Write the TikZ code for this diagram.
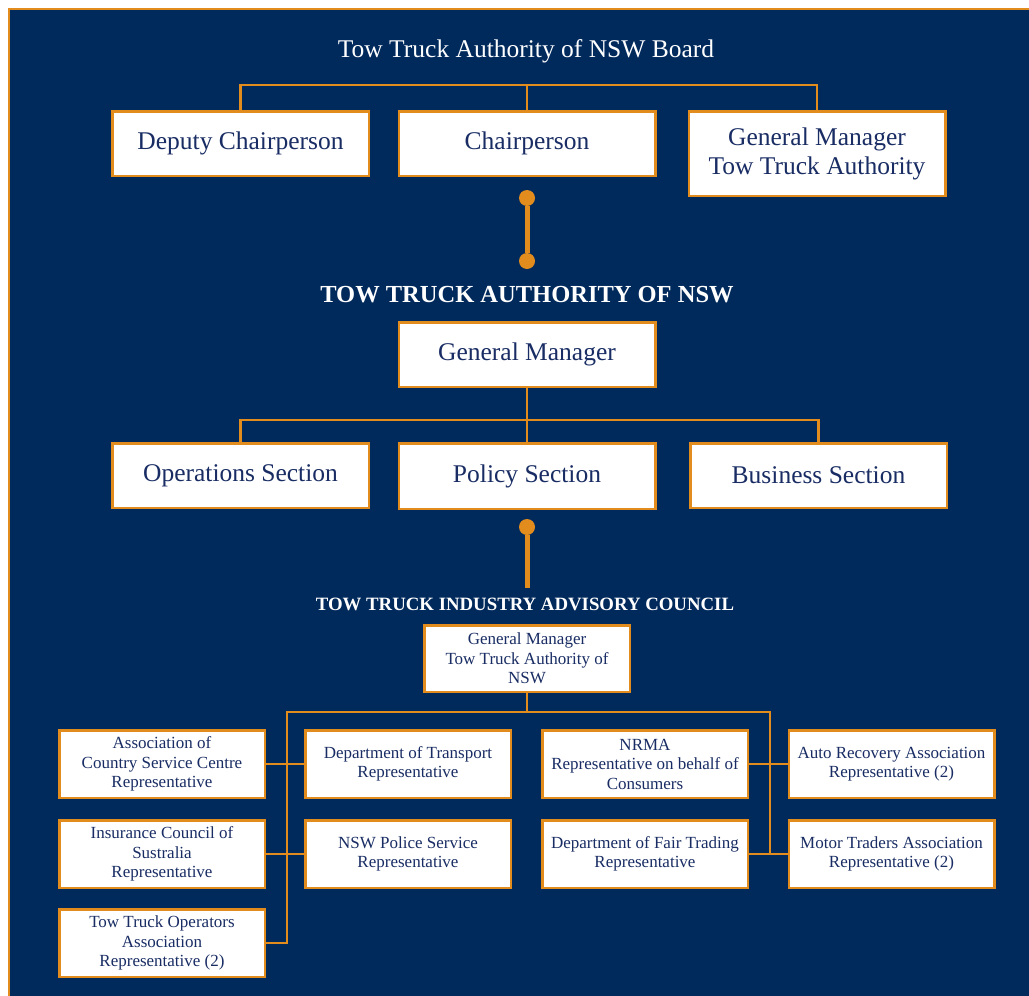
\documentclass[tikz,border=0pt]{standalone}
\usepackage{fontspec}
\setmainfont{Liberation Serif}
\definecolor{navy}{RGB}{0,41,92}
\definecolor{tor}{RGB}{226,140,30}
\definecolor{tblue}{RGB}{25,45,100}
\begin{document}
\begin{tikzpicture}[x=1pt,y=-1pt,
  box/.style={draw=tor, line width=2.5pt, fill=white, text=tblue, align=center, inner sep=0pt},
  big/.style={box, minimum width=256.5pt, minimum height=64.5pt, font=\fontsize{25.5}{29}\selectfont},
  small/.style={box, minimum width=205.5pt, minimum height=67.5pt, font=\fontsize{17}{19.5}\selectfont},
  conn/.style={draw=tor, line width=2.2pt},
  heavy/.style={draw=tor, line width=5pt},
  dot/.style={circle, fill=tor, minimum size=16pt, inner sep=0pt},
  title/.style={text=white, font=\fontsize{25.5}{29}\selectfont},
  head/.style={text=white, font=\bfseries\fontsize{24.5}{28}\selectfont},
  subhead/.style={text=white, font=\bfseries\fontsize{18.8}{22}\selectfont},
]
\useasboundingbox (0,0) rectangle (1029,996);
\begin{scope}
\clip (0,0) rectangle (1029,996);
\draw[fill=navy, draw=tor, line width=2.5pt] (9,9) rectangle (1060,1030);
\end{scope}

\node[title] (board) at (526,51) {Tow Truck Authority of NSW Board};
\node[big] (dep) at (240.5,143.5) {Deputy Chairperson};
\node[big] (chair) at (527,143.5) {Chairperson};
\node[big, minimum height=84.5pt] (gmt) at (817,153.5) {General Manager\\Tow Truck Authority};
\coordinate (h1) at (527,85);
\draw[conn] (dep.north) |- (h1) -| (gmt.north);
\draw[conn] (h1) -- (chair.north);

\node[dot] (d1) at (527,198) {};
\node[dot] (d2) at (527,261) {};
\draw[heavy] (d1) -- (d2);

\node[head] (tta) at (527,295) {TOW TRUCK AUTHORITY OF NSW};
\node[big] (gm) at (527,354.5) {General Manager};
\node[big] (ops) at (240.5,475.5) {Operations Section};
\node[big, minimum height=65.5pt] (pol) at (527,476) {Policy Section};
\node[big] (bus) at (818.5,475.5) {Business Section};
\coordinate (h2) at (527,420);
\draw[conn] (gm.south) -- (h2);
\draw[conn] (ops.north) |- (h2) -| (bus.north);
\draw[conn] (h2) -- (pol.north);

\node[dot] (d3) at (527,527) {};
\coordinate (d3e) at (527,588);
\draw[heavy] (d3) -- (d3e);

\node[subhead] (tiac) at (525,604) {TOW TRUCK INDUSTRY ADVISORY COUNCIL};
\node[small, minimum height=66.5pt] (gms) at (527,658.5) {General Manager\\Tow Truck Authority of\\NSW};

\node[small] (a1) at (162,764) {Association of\\Country Service Centre\\Representative};
\node[small] (a2) at (162,854) {Insurance Council of\\Sustralia\\Representative};
\node[small] (a3) at (162,943) {Tow Truck Operators\\Association\\Representative (2)};
\node[small] (b1) at (408,764) {Department of Transport\\Representative};
\node[small] (b2) at (408,854) {NSW Police Service\\Representative};
\node[small] (c1) at (645,764) {NRMA\\Representative on behalf of\\Consumers};
\node[small] (c2) at (645,854) {Department of Fair Trading\\Representative};
\node[small] (m1) at (891.5,764) {Auto Recovery Association\\Representative (2)};
\node[small] (m2) at (891.5,854) {Motor Traders Association\\Representative (2)};

\coordinate (h3) at (527,712);
\coordinate (lv) at (287,943);
\coordinate (rv) at (770,853);
\draw[conn] (gms.south) -- (h3);
\draw[conn] (h3) -| (lv) -- (a3.east);
\draw[conn] (h3) -| (rv);
\draw[conn] (a1.east) -- (b1.west);
\draw[conn] (a2.east) -- (b2.west);
\draw[conn] (c1.east) -- (m1.west);
\draw[conn] (c2.east) -- (m2.west);
\end{tikzpicture}
\end{document}
